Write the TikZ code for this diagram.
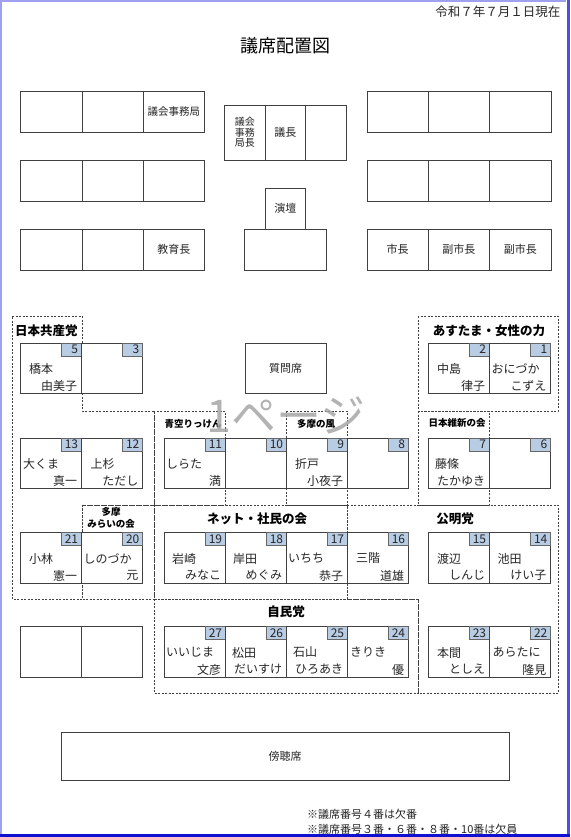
\documentclass[tikz,border=0pt]{standalone}
\usepackage{fontspec}
\setmainfont{Noto Sans CJK JP}
\usepackage{xcolor}
\definecolor{cLine}{HTML}{404040}
\definecolor{cNum}{HTML}{B8CCE4}
\definecolor{cDash}{HTML}{404040}
\definecolor{cText}{HTML}{262626}
\definecolor{cEdgeL}{HTML}{A0A0F0}
\definecolor{cEdgeR}{HTML}{5050E0}
\definecolor{cEdgeB}{HTML}{1010D0}
\definecolor{cMark}{HTML}{A6A6A6}
\usepackage{tikz}
\usetikzlibrary{positioning}
\tikzset{
  desk-box/.style={draw=cLine,line width=0.8pt,fill=white,inner sep=0pt,outer sep=0pt,
    minimum width=61.3pt,minimum height=41pt,align=center,text=cText,
    font=\fontsize{11}{13}\selectfont},
  seat-box/.style={draw=cLine,line width=0.8pt,fill=white,inner sep=0pt,outer sep=0pt,
    minimum width=61.3pt,minimum height=50.5pt},
  seat-num/.style={draw=cLine!80,line width=0.6pt,fill=cNum,inner sep=0pt,outer sep=0pt,
    minimum width=20pt,minimum height=13pt},
  num-text/.style={inner sep=0pt,anchor=east,text=cText,font=\fontsize{12}{12}\selectfont},
  name-text/.style={inner sep=0pt,text=cText,font=\fontsize{12}{12}\selectfont},
  party-area/.style={draw=cDash,line width=0.6pt,dash pattern=on 2pt off 1.5pt},
  party-big/.style={inner sep=0pt,text=black,font=\fontsize{12.5}{13}\selectfont\bfseries},
  party-small/.style={inner sep=0pt,text=black,align=center,
    font=\fontsize{9.5}{12}\selectfont\bfseries},
  note-text/.style={inner sep=0pt,anchor=west,text=cText,font=\fontsize{11}{11}\selectfont},
}
% 議席: [姓の字下げ]{名前}{左上}{番号}{姓}{名}
\newcommand{\seat}[6][9]{%
  \node[seat-box,anchor=north west] (#2) at (#3) {};
  \node[seat-num,anchor=north east] (#2-num) at (#2.north east) {};
  \node[num-text] at ([xshift=-3pt]#2-num.east) {#4};
  \node[name-text,anchor=west] (#2-sur) at ([xshift=#1pt,yshift=-26pt]#2.north west) {#5};
  \node[name-text,anchor=east] (#2-giv) at ([xshift=-4pt,yshift=-43pt]#2.north east) {#6};
}
\begin{document}
\begin{tikzpicture}[x=1pt,y=-1pt]
  \useasboundingbox (0,0) rectangle (570,837);
  \fill[white] (0,0) rectangle (570,837);

  \node[text=cText,font=\fontsize{12.5}{13}\selectfont,anchor=east] (date) at (564,12) {令和７年７月１日現在};
  \node[text=black,font=\fontsize{18}{18}\selectfont] (title) at (285,46) {議席配置図};

  % 会派の枠
  \draw[party-area] (12,316) -- (82,316) -- (82,411) -- (154,411) -- (154,505)
    -- (82,505) -- (82,599) -- (12,599) -- cycle;
  \draw[party-area] (154,411) rectangle (225,505);
  \draw[party-area] (286,411) rectangle (347,505);
  \draw[party-area] (418,316) rectangle (558,411);
  \draw[party-area] (418,411) rectangle (489,505);
  \draw[party-area] (82,505) rectangle (154,599);
  \draw[party-area] (154,505) rectangle (347,599);
  \draw[party-area] (347,505) -- (558,505) -- (558,693) -- (418,693) -- (418,599)
    -- (347,599) -- cycle;
  \draw[party-area] (154,599) rectangle (418,693);

  % 理事者席
  \node[desk-box,anchor=north west] (lA1) at (20.7,91) {};
  \node[desk-box,right=0pt of lA1] (lA2) {};
  \node[desk-box,right=0pt of lA2,font=\fontsize{10.5}{12}\selectfont] (lA3) {議会事務局};
  \node[desk-box,anchor=north west] (lB1) at (20.7,160) {};
  \node[desk-box,right=0pt of lB1] (lB2) {};
  \node[desk-box,right=0pt of lB2] (lB3) {};
  \node[desk-box,anchor=north west] (lC1) at (20.7,229) {};
  \node[desk-box,right=0pt of lC1] (lC2) {};
  \node[desk-box,right=0pt of lC2] (lC3) {教育長};

  \node[desk-box,anchor=north west] (rA1) at (367,91) {};
  \node[desk-box,right=0pt of rA1] (rA2) {};
  \node[desk-box,right=0pt of rA2] (rA3) {};
  \node[desk-box,anchor=north west] (rB1) at (367,160) {};
  \node[desk-box,right=0pt of rB1] (rB2) {};
  \node[desk-box,right=0pt of rB2] (rB3) {};
  \node[desk-box,anchor=north west] (rC1) at (367,229) {市長};
  \node[desk-box,right=0pt of rC1] (rC2) {副市長};
  \node[desk-box,right=0pt of rC2] (rC3) {副市長};

  \node[desk-box,minimum width=40.7pt,minimum height=55pt,anchor=north west,
    font=\fontsize{10}{10.5}\selectfont] (cA1) at (224.4,105) {議会\\事務\\局長};
  \node[desk-box,minimum width=40.7pt,minimum height=55pt,right=0pt of cA1] (cA2) {議長};
  \node[desk-box,minimum width=40.7pt,minimum height=55pt,right=0pt of cA2] (cA3) {};
  \node[desk-box,minimum width=40.7pt,anchor=south west] (podium) at (265,229) {演壇};
  \node[desk-box,minimum width=81.8pt,anchor=north west] (cC) at (244.4,229) {};

  \node[desk-box,minimum width=81pt,minimum height=50.5pt,anchor=north west] (qseat) at (245,343) {質問席};

  % 議員席
  \seat{s5}{20,343}{5}{橋本}{由美子}
  \seat{s3}{81.3,343}{3}{}{}
  \seat{s2}{428,343}{2}{中島}{律子}
  \seat[2]{s1}{489.3,343}{1}{おにづか}{こずえ}

  \seat[3]{s13}{20,438}{13}{大くま}{真一}
  \seat{s12}{81.3,438}{12}{上杉}{ただし}
  \seat[2]{s11}{164,438}{11}{しらた}{満}
  \seat{s10}{225,438}{10}{}{}
  \seat{s9}{286,438}{9}{折戸}{小夜子}
  \seat{s8}{347,438}{8}{}{}
  \seat[7]{s7}{428,438}{7}{藤條}{たかゆき}
  \seat{s6}{489.3,438}{6}{}{}

  \seat{s21}{20,532.5}{21}{小林}{憲一}
  \seat[2]{s20}{81.3,532.5}{20}{しのづか}{元}
  \seat[8]{s19}{164,532.5}{19}{岩崎}{みなこ}
  \seat[8]{s18}{225,532.5}{18}{岸田}{めぐみ}
  \seat[2]{s17}{286,532.5}{17}{いちち}{恭子}
  \seat{s16}{347,532.5}{16}{三階}{道雄}
  \seat{s15}{428,532.5}{15}{渡辺}{しんじ}
  \seat[8]{s14}{489.3,532.5}{14}{池田}{けい子}

  \node[seat-box,anchor=north west] (b1) at (20,626.5) {};
  \node[seat-box,right=0pt of b1] (b2) {};
  \seat[2]{s27}{164,626.5}{27}{いいじま}{文彦}
  \seat[7]{s26}{225,626.5}{26}{松田}{だいすけ}
  \seat[7]{s25}{286,626.5}{25}{石山}{ひろあき}
  \seat[3]{s24}{347,626.5}{24}{きりき}{優}
  \seat{s23}{428,626.5}{23}{本間}{としえ}
  \seat[3]{s22}{489.3,626.5}{22}{あらたに}{隆見}

  % 会派名
  \node[party-big,anchor=west] (lbl-kyosan) at (15,331) {日本共産党};
  \node[party-big] (lbl-asutama) at (489,331) {あすたま・女性の力};
  \node[party-small] (lbl-aozora) at (193,424) {青空りっけん};
  \node[party-small] (lbl-tamakaze) at (316,424) {多摩の風};
  \node[party-small] (lbl-ishin) at (457,423) {日本維新の会};
  \node[party-small] (lbl-mirai) at (111,518) {多摩\\みらいの会};
  \node[party-big] (lbl-net) at (257,519) {ネット・社民の会};
  \node[party-big] (lbl-komei) at (455,519) {公明党};
  \node[party-big] (lbl-jimin) at (286,612) {自民党};

  \node[desk-box,minimum width=448pt,minimum height=48.5pt,anchor=north west] (gallery) at (61,732) {傍聴席};

  \node[note-text] (note1) at (307,814) {※議席番号４番は欠番};
  \node[note-text] (note2) at (307,829) {※議席番号３番・６番・８番・10番は欠員};

  \node[text=cMark,opacity=0.85,font=\fontsize{45}{45}\selectfont] (mark) at (286,415) {1ページ};

  \draw[cEdgeL,line width=2pt] (1,837) -- (1,1) -- (566,1);
  \draw[cEdgeR,line width=3pt] (568.5,0) -- (568.5,837);
  \draw[cEdgeB,line width=2.5pt] (0,835.7) -- (570,835.7);
\end{tikzpicture}
\end{document}
